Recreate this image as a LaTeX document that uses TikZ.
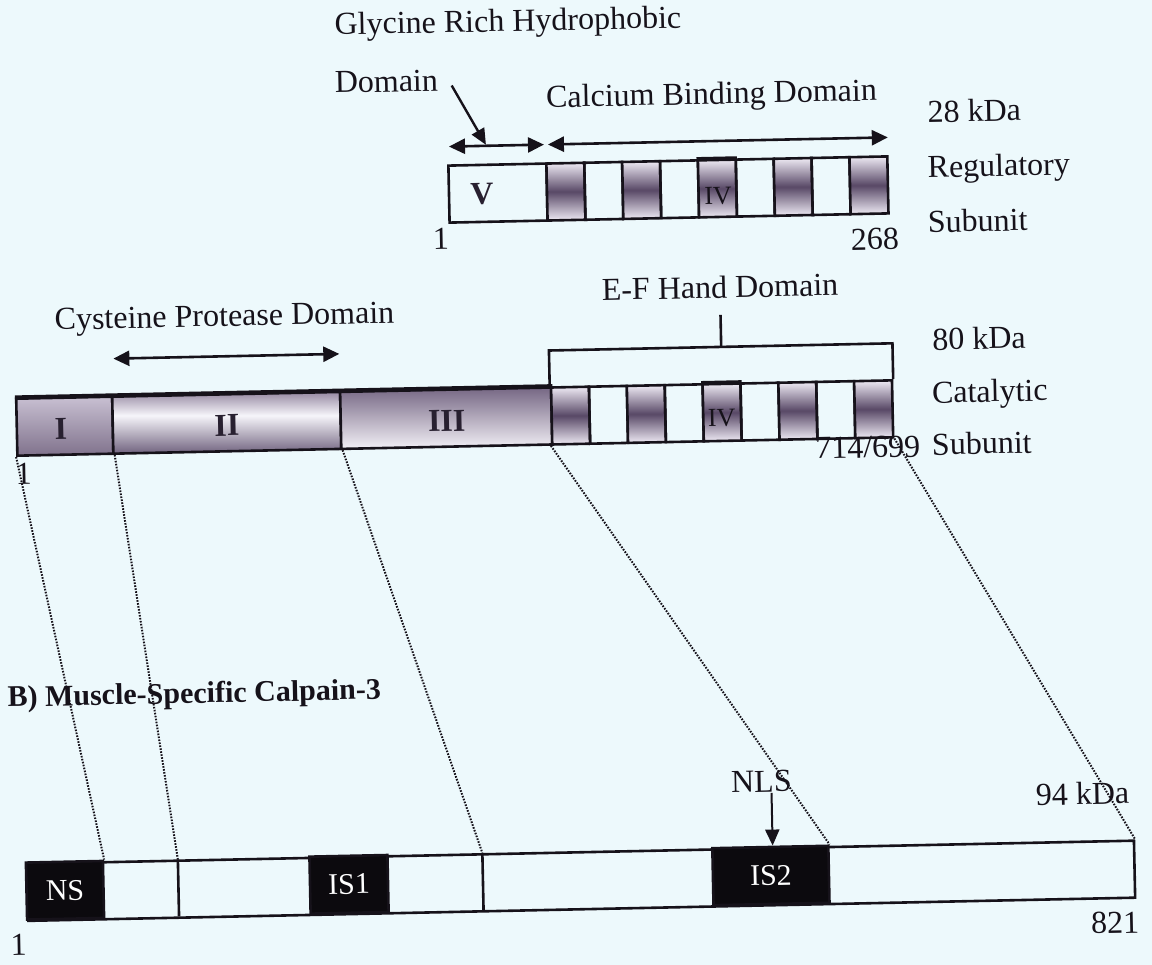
\documentclass[tikz,border=0pt]{standalone}
\usepackage{fontspec}
\setmainfont{Liberation Serif}
\usetikzlibrary{arrows.meta}
\definecolor{bg}{RGB}{237,249,252}
\definecolor{ink}{RGB}{22,18,26}
\definecolor{efdark}{RGB}{88,72,102}
\definecolor{eflight}{RGB}{238,234,244}
\definecolor{dIt}{RGB}{200,192,210}
\definecolor{dIb}{RGB}{128,114,140}
\definecolor{dIIt}{RGB}{150,137,162}
\definecolor{dIIl}{RGB}{246,245,250}
\definecolor{dIIb}{RGB}{112,98,126}
\definecolor{dIIIt}{RGB}{118,103,132}
\definecolor{dIIIb}{RGB}{242,240,246}
\definecolor{blk}{RGB}{12,10,14}
\definecolor{domtext}{RGB}{40,32,48}
\pgfdeclareverticalshading{domIIshade}{100bp}{color(0bp)=(dIIb); color(25bp)=(dIIb); color(56bp)=(dIIl); color(75bp)=(dIIt); color(100bp)=(dIIt)}
\tikzset{
  txt/.style={inner sep=0pt, text=ink, font=\fontsize{32}{38}\selectfont},
  lbl/.style={txt, anchor=base west},
  bartext/.style={txt, font=\bfseries\fontsize{32}{38}\selectfont, text=domtext},
  dom/.style={draw=ink, line width=2.6pt, inner sep=0pt, minimum height=57pt},
  seg/.style={draw=ink, line width=2.6pt, inner sep=0pt, minimum width=37.89pt, minimum height=57pt},
  efseg/.style={seg, top color=eflight, bottom color=eflight, middle color=efdark},
  blkbox/.style={draw=ink, fill=blk, line width=2.6pt, minimum height=57pt, inner sep=0pt, text=white, font=\fontsize{30}{36}\selectfont},
  dbl/.style={draw=ink, line width=2.6pt, {Triangle[length=16pt,width=15pt]}-{Triangle[length=16pt,width=15pt]}},
  sgl/.style={draw=ink, line width=2.4pt, -{Triangle[length=16pt,width=14pt]}},
  dots/.style={draw=ink, line width=2pt, dash pattern=on 1.6pt off 1.4pt},
  plain/.style={draw=ink, line width=2.6pt},
}
\begin{document}
\begin{tikzpicture}[x=1pt,y=-1pt]
\useasboundingbox (0,0) rectangle (1152,965);
\fill[bg] (0,0) rectangle (1152,965);
\begin{scope}[rotate around={1.2:(576,480)}, transform shape]

% ---------- Regulatory subunit ----------
\node[lbl] (glyc) at (344,30) {Glycine Rich Hydrophobic};
\node[lbl] (domlbl) at (343,88) {Domain};
\node[lbl] (calc) at (554,107) {Calcium Binding Domain};
\node[lbl] (kda28) at (935,130) {28 kDa};
\node[lbl] (regl) at (934,185) {Regulatory};
\node[lbl] (sub1) at (933,240) {Subunit};

\node[seg, minimum width=98pt] (vbox) at (504,191.5) {};
\node[bartext] (vlab) at (488,192) {V};
\foreach \k in {0,...,8}{
  \pgfmathsetmacro\cx{553+(\k+0.5)*37.89}
  \ifodd\k
    \node[seg] (r\k) at (\cx,191.5) {};
  \else
    \node[efseg] (r\k) at (\cx,191.5) {};
  \fi
}
\draw[line width=4pt, ink] (r4.north west) -- (r4.north east);
\node[txt, font=\fontsize{26}{30}\selectfont] (rIV) at (724,199) {IV};
\node[txt, anchor=base] (one1) at (446,247) {1};
\node[txt, anchor=base east] (n268) at (904,256) {268};

\coordinate (a1l) at (456,144);
\coordinate (a1r) at (551,144);
\coordinate (a2l) at (555,144);
\coordinate (a2r) at (895,144);
\draw[dbl] (a1l) -- (a1r);
\draw[dbl] (a2l) -- (a2r);
\coordinate (diagS) at (460,83);
\coordinate (diagE) at (493,143);
\draw[sgl] (diagS) -- (diagE);

% ---------- Catalytic subunit ----------
\node[lbl] (cyst) at (58,319) {Cysteine Protease Domain};
\coordinate (cyl) at (116,349);
\coordinate (cyr) at (342,349);
\draw[dbl] (cyl) -- (cyr);
\node[txt, anchor=base] (efh) at (724,301) {E-F Hand Domain};
\node[lbl] (kda80) at (935,357.5) {80 kDa};
\node[lbl] (catl) at (933.6,410.5) {Catalytic};
\node[lbl] (sub2) at (932.5,462.5) {Subunit};

\node[dom, minimum width=96pt, top color=dIt, bottom color=dIb] (dI) at (66,415.5) {};
\node[dom, minimum width=228pt, shading=domIIshade] (dII) at (228,415.5) {};
\node[dom, minimum width=211pt, top color=dIIIt, bottom color=dIIIb] (dIII) at (447.5,415.5) {};
\draw[line width=4pt, ink] (dI.north west) -- (dIII.north east);
\node[bartext] (tI) at (62,418) {I};
\node[bartext] (tII) at (228,418) {II};
\node[bartext] (tIII) at (448,418) {III};
\foreach \k in {0,...,8}{
  \pgfmathsetmacro\cx{553+(\k+0.5)*37.89}
  \ifodd\k
    \node[seg] (e\k) at (\cx,415.5) {};
  \else
    \node[efseg] (e\k) at (\cx,415.5) {};
  \fi
}
\draw[line width=4pt, ink] (e4.north west) -- (e4.north east);
\node[txt, font=\fontsize{26}{30}\selectfont] (eIV) at (723,421) {IV};
\coordinate (brT) at (724,350);
\coordinate (tick) at (724,318);
\draw[plain] (e0.north west) -- (e0.north west |- brT) -- (e8.north east |- brT) -- (e8.north east);
\draw[plain] (brT) -- (tick);
\node[txt, anchor=base east] (n714) at (921,464) {714/699};
\node[txt, anchor=base] (one2) at (24,473) {1};

% ---------- Calpain-3 ----------
\node[txt, anchor=base west, font=\bfseries\fontsize{30}{36}\selectfont] (title) at (3,695) {B) Muscle-Specific Calpain-3};
\node[draw=ink, line width=2.6pt, inner sep=0pt, minimum width=1107pt, minimum height=57pt, anchor=north west] (bar3) at (18,851) {};
\node[blkbox, minimum width=77pt] (ns) at (56.5,879.5) {NS};
\node[blkbox, minimum width=78pt] (is1) at (340.6,879.5) {IS1};
\node[blkbox, minimum width=116pt] (is2) at (762.6,879.5) {IS2};
\coordinate (d1t) at (170,851);
\coordinate (d1b) at (170,908);
\coordinate (d2t) at (474.6,851);
\coordinate (d2b) at (474.6,908);
\draw[plain] (d1t) -- (d1b);
\draw[plain] (d2t) -- (d2b);
\node[txt, anchor=base] (nls) at (755,796) {NLS};
\coordinate (nlsS) at (765,797);
\draw[sgl, line width=2pt] (nlsS) -- (nlsS |- is2.north);
\node[lbl] (kda94) at (1029,815) {94 kDa};
\node[txt, anchor=base east] (n821) at (1130,944.5) {821};
\node[txt, anchor=base] (one3) at (9,944) {1};

% ---------- dotted correspondences ----------
\draw[dots] (dI.south west) -- (ns.north east);
\draw[dots] (dI.south east) -- (d1t);
\draw[dots] (dII.south east) -- (d2t);
\draw[dots] (e0.south west) -- (is2.north east);
\draw[dots] (e8.south east) -- (bar3.north east);
\end{scope}
\end{tikzpicture}
\end{document}
